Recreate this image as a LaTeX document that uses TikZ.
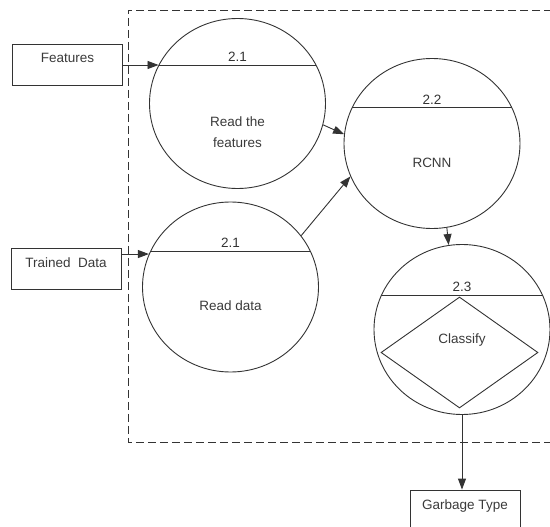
\documentclass[tikz,border=0pt]{standalone}
\usepackage{fontspec}
\setmainfont{Liberation Sans}
\usepackage{xcolor}
\usetikzlibrary{shapes.geometric, arrows.meta, positioning}
\definecolor{lncol}{HTML}{333333}
\definecolor{txtcol}{HTML}{3A3A3A}

\begin{document}
\begin{tikzpicture}[x=1pt, y=-1pt, font=\fontsize{13.5}{21}\selectfont, text=txtcol]
\tikzstyle{entity} = [rectangle, draw=lncol, line width=0.9pt, minimum width=110pt, inner sep=0pt, text height=19pt, text depth=22pt]
\tikzstyle{process} = [ellipse, draw=lncol, line width=0.9pt, minimum width=176pt, minimum height=170pt, inner sep=0pt]
\tikzstyle{decision} = [diamond, draw=lncol, line width=0.9pt, minimum width=157pt, minimum height=111pt, inner sep=0pt]
\tikzstyle{flow} = [line width=0.9pt, draw=lncol, -{Triangle[length=11pt, width=8pt]}]

\useasboundingbox (0,0) rectangle (550,527);

% system boundary
\draw[lncol, line width=0.9pt, dash pattern=on 8pt off 4pt] (552,10) -- (128,10) -- (128,442) -- (552,442);

\node (feat) [entity] at (67.5,64.5) {Features};
\node (train) [entity] at (66,268.5) {Trained\ \ Data};
\node (garb) [entity] at (465,510.5) {Garbage Type};

\node (rf) [process] at (237.5,103.5) {};
\node (rd) [process] at (230.5,287) {};
\node (rcnn) [process] at (432,143.5) {};
\node (cls) [process] at (462,329.5) {};
\node (dec) [decision] at (459.5,352.5) {};

% process numbers
\foreach \n/\a/\b/\num in {rf/26/154/2.1, rd/24/156/2.1, rcnn/24/156/2.2, cls/23/157/2.3}
  \draw[lncol, line width=0.9pt] (\n.\b) -- node[above, inner sep=3pt] {\num} (\n.\a);

\node (rftext) [align=center] at ([yshift=-29pt]rf.center) {Read the\\features};
\node (rdtext) at ([yshift=-19pt]rd.center) {Read data};
\node (rcnntext) at ([yshift=-19.5pt]rcnn.center) {RCNN};
\node (clstext) at ([yshift=-10.5pt]cls.center) {Classify};

\draw[flow] (rf.154 -| feat.east) -- (rf.154);
\draw[flow] (rd.158 -| train.east) -- (rd.158);
\draw[flow] (rf.346) -- (rcnn.174);
\draw[flow] (rd.36) -- (rcnn.202);
\draw[flow] (rcnn.280) -- (cls.99);
\draw[flow] (cls.south) -- (cls.south |- garb.north);

\end{tikzpicture}
\end{document}
